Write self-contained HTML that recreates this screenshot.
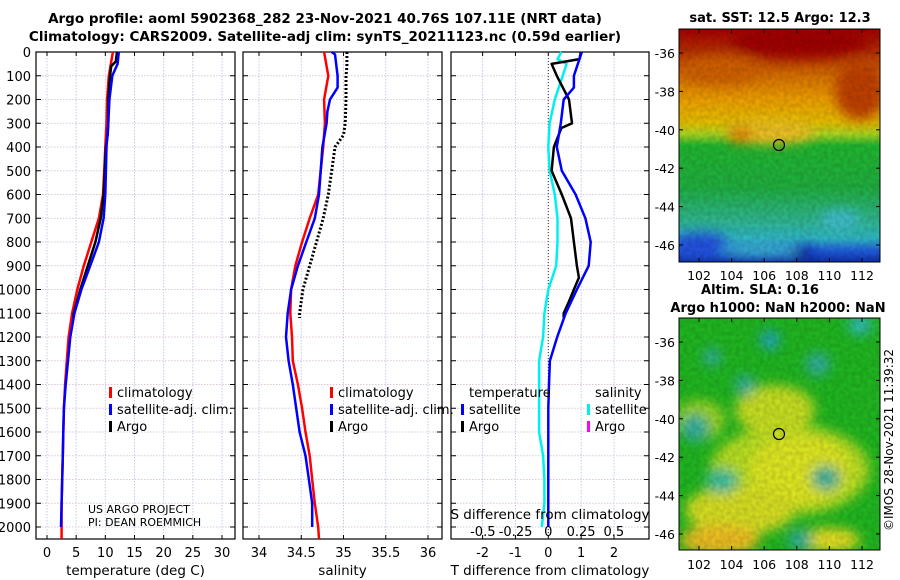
<!DOCTYPE html>
<html><head><meta charset="utf-8"><style>
body{margin:0;background:#fff;}
svg{display:block;font-family:"DejaVu Sans","Liberation Sans",sans-serif;}
</style></head><body>
<svg id="fig" width="900" height="580" viewBox="0 0 900 580" xmlns="http://www.w3.org/2000/svg">
<defs>
<linearGradient id="sstg" x1="0" y1="0" x2="0" y2="1">
<stop offset="0" stop-color="#a80000"/><stop offset="0.1" stop-color="#b83000"/>
<stop offset="0.2" stop-color="#d87000"/><stop offset="0.3" stop-color="#f0a000"/>
<stop offset="0.4" stop-color="#e8c000"/><stop offset="0.45" stop-color="#b0d820"/>
<stop offset="0.5" stop-color="#20b830"/><stop offset="0.68" stop-color="#20b040"/>
<stop offset="0.82" stop-color="#30b890"/><stop offset="0.9" stop-color="#30b8c8"/>
<stop offset="0.95" stop-color="#2060e0"/><stop offset="1" stop-color="#1030b0"/>
</linearGradient>
<filter id="blur6"><feGaussianBlur stdDeviation="6"/></filter>
<filter id="noise"><feTurbulence type="fractalNoise" baseFrequency="0.25" numOctaves="1" seed="3"/><feColorMatrix values="0 0 0 0 0  0 0 0 0 0  0 0 0 0 0  0 0 0 0.25 -0.05"/></filter>
<clipPath id="c1"><rect x="679" y="29" width="201" height="233"/></clipPath>
<clipPath id="c2"><rect x="679" y="318" width="201" height="232"/></clipPath>
</defs>
<g id="titles">
<text x="325" y="23" text-anchor="middle" font-size="13.5" font-weight="bold">Argo profile: aoml 5902368_282 23-Nov-2021 40.76S 107.11E (NRT data)</text>
<text x="325" y="41" text-anchor="middle" font-size="13.5" font-weight="bold">Climatology: CARS2009. Satellite-adj clim: synTS_20211123.nc (0.59d earlier)</text>
</g>
<g id="plots"></g>
<g id="maps">
<g clip-path="url(#c1)">
<rect x="679" y="29" width="201" height="233" fill="url(#sstg)"/>
<g filter="url(#blur6)">
<ellipse cx="800" cy="42" rx="70" ry="16" fill="#a00000"/>
<ellipse cx="860" cy="90" rx="25" ry="30" fill="#c04000"/>
<ellipse cx="720" cy="70" rx="40" ry="14" fill="#d06000"/>
<ellipse cx="770" cy="132" rx="45" ry="12" fill="#f0c020"/>
<ellipse cx="740" cy="135" rx="12" ry="8" fill="#e08000"/>
<ellipse cx="700" cy="245" rx="30" ry="12" fill="#2050e0"/>
<ellipse cx="800" cy="255" rx="12" ry="10" fill="#1020a0"/>
<ellipse cx="840" cy="220" rx="20" ry="10" fill="#40c0d0"/>
<ellipse cx="760" cy="250" rx="40" ry="6" fill="#40c8d0"/>
</g>
<rect x="679" y="29" width="201" height="233" filter="url(#noise)"/>
</g>
<rect x="679" y="29" width="201" height="233" fill="none" stroke="#000"/>
<circle cx="779" cy="145" r="5.5" fill="none" stroke="#000" stroke-width="1.2"/>
<g clip-path="url(#c2)">
<rect x="679" y="318" width="201" height="232" fill="#20b820"/>
<g filter="url(#blur6)">
<ellipse cx="790" cy="470" rx="80" ry="45" fill="#b8e020"/>
<ellipse cx="775" cy="410" rx="40" ry="25" fill="#c8e020"/>
<ellipse cx="800" cy="470" rx="50" ry="35" fill="#e0e820"/>
<ellipse cx="740" cy="510" rx="55" ry="25" fill="#d8e020"/>
<ellipse cx="720" cy="540" rx="40" ry="15" fill="#f0c020"/>
<ellipse cx="830" cy="540" rx="30" ry="12" fill="#e8e020"/>
<ellipse cx="700" cy="420" rx="25" ry="20" fill="#a0d820"/>
<ellipse cx="770" cy="340" rx="10" ry="10" fill="#20a8c0"/>
<ellipse cx="860" cy="325" rx="12" ry="10" fill="#30c0c0"/>
<ellipse cx="712" cy="357" rx="9" ry="9" fill="#30b0a0"/>
<ellipse cx="818" cy="364" rx="12" ry="12" fill="#30b0a0"/>
<ellipse cx="745" cy="385" rx="10" ry="10" fill="#30b0a0"/>
<ellipse cx="695" cy="428" rx="14" ry="14" fill="#30b0a0"/>
<ellipse cx="722" cy="481" rx="16" ry="12" fill="#30c0a0"/>
<ellipse cx="826" cy="478" rx="14" ry="12" fill="#30b0a0"/>
<ellipse cx="800" cy="540" rx="12" ry="10" fill="#30b0a0"/>
</g>
<rect x="679" y="318" width="201" height="232" filter="url(#noise)"/>
</g>
<rect x="679" y="318" width="201" height="232" fill="none" stroke="#000"/>
<circle cx="779" cy="434" r="5.5" fill="none" stroke="#000" stroke-width="1.2"/>
<text x="780" y="22" text-anchor="middle" font-size="13" font-weight="bold">sat. SST: 12.5 Argo: 12.3</text>
<text x="760" y="294" text-anchor="middle" font-size="13" font-weight="bold">Altim. SLA: 0.16</text>
<text x="778" y="312" text-anchor="middle" font-size="13" font-weight="bold">Argo h1000: NaN h2000: NaN</text>
<text transform="translate(893,440) rotate(-90)" text-anchor="middle" font-size="12">©IMOS 28-Nov-2021 11:39:32</text>
</g>
</svg>
<script>
const depths=[0,100,200,300,400,500,600,700,800,900,1000,1100,1200,1300,1400,1500,1600,1700,1800,1900,2000,2050];
const tempClim=[11.3,10.6,10.3,10.2,10.0,9.8,9.6,8.9,7.6,6.3,5.2,4.3,3.7,3.4,3.1,2.9,2.8,2.7,2.6,2.5,2.5,2.5];
const tempSatDepths=[0,50,100,200,300,400,500,600,700,800,900,1000,1100,1200,1300,1400,1500,1600,1700,1800,1900,2000];
const tempSat=[12.3,12.1,11.2,10.7,10.5,10.2,10.1,10.0,9.7,8.9,7.4,5.9,4.7,4.0,3.6,3.2,2.9,2.8,2.7,2.6,2.5,2.4];
const argoDepths=[0,40,60,100,200,300,350,400,500,600,700,800,900,1000,1100,1120];
const tempArgo=[12.0,11.8,11.0,10.8,10.5,10.5,10.4,10.1,9.9,9.7,9.2,8.3,7.0,5.7,4.6,4.5];
const salClim=[34.77,34.82,34.77,34.78,34.76,34.73,34.70,34.60,34.51,34.43,34.38,34.37,34.39,34.40,34.46,34.51,34.55,34.60,34.63,34.66,34.70,34.71];
const salSatDepths=[0,10,100,150,200,250,300,400,500,600,700,800,900,1000,1100,1200,1300,1400,1500,1600,1700,1800,1900,2000];
const salSat=[34.86,34.90,34.93,34.93,34.84,34.81,34.80,34.75,34.73,34.71,34.66,34.56,34.46,34.38,34.34,34.32,34.35,34.40,34.44,34.48,34.55,34.59,34.63,34.63];
const salArgo=[35.04,35.04,35.04,35.03,35.03,35.02,35.00,34.90,34.86,34.82,34.76,34.68,34.60,34.52,34.48,34.48];
const tdiffSatDepths=[0,100,150,200,300,400,500,600,700,800,900,1000,1100,1200,1300,1400,1500,1600,1700,1800,1900,2000];
const tdiffSat=[1.02,0.78,0.78,0.47,0.38,0.26,0.41,0.83,1.13,1.29,1.23,0.87,0.53,0.27,0.05,0.02,0.0,0.0,0.0,0.0,0.0,0.0];
const tdiffArgoDepths=[0,30,50,100,200,300,320,400,500,600,700,800,900,950,1000,1050,1100,1120];
const tdiffArgo=[0.99,0.95,0.10,0.26,0.63,0.72,0.40,0.17,0.10,0.41,0.69,0.78,0.87,0.93,0.78,0.63,0.47,0.47];
const sdiffSatDepths=[0,30,50,100,200,300,400,500,600,700,800,900,1000,1100,1200,1300,1400,1500,1600,1700,1800,1900,2000];
const sdiffSat=[0.10,0.07,0.14,0.11,0.05,0.01,0.0,0.01,0.05,0.07,0.07,0.06,0.0,-0.03,-0.04,-0.07,-0.07,-0.07,-0.07,-0.04,-0.03,-0.03,-0.05];
const depthTicks=[0,100,200,300,400,500,600,700,800,900,1000,1100,1200,1300,1400,1500,1600,1700,1800,1900,2000];
const tempTicks=[0,5,10,15,20,25,30];
const salTicks=[34,34.5,35,35.5,36];
const tdiffTicks=[-2,-1,0,1,2];
const sdiffTicks=[-0.5,-0.25,0,0.25,0.5];
const latTicks=[-36,-38,-40,-42,-44,-46];
const lonTicks=[102,104,106,108,110,112];

const NS='http://www.w3.org/2000/svg';
const g=document.getElementById('plots');
const Y0=52,Y1=539;
function yD(d){return Y0+d*(527-52)/2000;}
function mk(tag,attrs,parent){const e=document.createElementNS(NS,tag);for(const k in attrs)e.setAttribute(k,attrs[k]);(parent||g).appendChild(e);return e;}
function txt(x,y,s,size,anchor,fill){const t=mk('text',{x:x,y:y,'font-size':size,'text-anchor':anchor||'middle',fill:fill||'#000'});t.textContent=s;return t;}
function scale(v0,p0,v1,p1){return v=>p0+(v-v0)*(p1-p0)/(v1-v0);}
const xT=scale(0,47,30,222), xS=scale(34,259,36,428), xTD=scale(0,548.3,2,614), xSD=scale(0,548.3,0.5,613.8);
const panels=[{l:36,r:235,x:xT,ticks:tempTicks,label:'temperature (deg C)',name:'temperature'},
{l:243,r:442,x:xS,ticks:salTicks,label:'salinity',name:'salinity'},
{l:451,r:649,x:xTD,ticks:tdiffTicks,label:'T difference from climatology',name:'difference'}];
panels.forEach((p,i)=>{
  const pg=mk('g',{});
  
  
  p.ticks.forEach(v=>{const x=p.x(v);
    const l=mk('line',{x1:x,x2:x,y1:Y0,y2:Y1,stroke:'#c8c8e8','stroke-dasharray':'1.5,1.5','stroke-width':1},pg);
    
    mk('line',{x1:x,x2:x,y1:Y1,y2:Y1-4,stroke:'#000'},pg);mk('line',{x1:x,x2:x,y1:Y0,y2:Y0+4,stroke:'#000'},pg);
    const t=txt(x,557,String(v),13);pg.appendChild(t);
    });
  depthTicks.forEach(d=>{const y=yD(d);
    const l=mk('line',{x1:p.l,x2:p.r,y1:y,y2:y,stroke:'#d8c8d8','stroke-dasharray':'1.5,1.5','stroke-width':1},pg);
    
    mk('line',{x1:p.l,x2:p.l+5,y1:y,y2:y,stroke:'#000'},pg);mk('line',{x1:p.r,x2:p.r-5,y1:y,y2:y,stroke:'#000'},pg);});
  const r=mk('rect',{x:p.l,y:Y0,width:p.r-p.l,height:Y1-Y0,fill:'none',stroke:'#000','stroke-width':1.2},pg);
  
  const xl=txt((p.l+p.r)/2,575,p.label,13.5);pg.appendChild(xl);
  
});
depthTicks.forEach(d=>{const t=txt(31,yD(d)+5,String(d),13,'end');
  });
function line(xf,vals,ds,color,w,dash,name){
  const pts=vals.map((v,i)=>xf(v).toFixed(1)+','+yD(ds[i]).toFixed(1)).join(' ');
  const a={points:pts,fill:'none',stroke:color,'stroke-width':w,'stroke-linejoin':'round'};
  if(dash)a['stroke-dasharray']=dash;
  const e=mk('polyline',a);
  }
line(xT,tempClim,depths,'#f00',2.5,null,'temp-climatology-line');
line(xT,tempArgo,argoDepths,'#000',2.5,null,'temp-argo-line');
line(xT,tempSat,tempSatDepths,'#00f',2.5,null,'temp-satellite-line');
line(xS,salClim,depths,'#f00',2.5,null,'sal-climatology-line');
line(xS,salSat,salSatDepths,'#00f',2.5,null,'sal-satellite-line');
line(xS,salArgo,argoDepths,'#000',3,'2,2','sal-argo-line');
const zl=mk('line',{x1:xTD(0),x2:xTD(0),y1:Y0,y2:Y1,stroke:'#333','stroke-dasharray':'1,2'});

line(xSD,sdiffSat,sdiffSatDepths,'#00f0f0',2.5,null,'sdiff-satellite-line');
line(xTD,tdiffArgo,tdiffArgoDepths,'#000',2.5,null,'tdiff-argo-line');
line(xTD,tdiffSat,tdiffSatDepths,'#00f',2.5,null,'tdiff-satellite-line');
sdiffTicks.forEach(v=>{const t=txt(xSD(v),536,String(v),13);
  });
const st=txt(550,519,'S difference from climatology',13.5);

function leg(x,y,color,label,name){
  const m=mk('rect',{x:x,y:y-10,width:3,height:11,fill:color});
  
  const t=txt(x+8,y,label,13,'start');
  }
[[109,'temp'],[330,'sal']].forEach(([x,n])=>{
  leg(x,397,'#f00','climatology',n+'-legend-climatology');
  leg(x,414,'#00f','satellite-adj. clim.',n+'-legend-satellite');
  leg(x,431,'#000','Argo',n+'-legend-argo');});
const lt=txt(469,397,'temperature',13,'start');
const ls=txt(595,397,'salinity',13,'start');
leg(461,414,'#00f','satellite','diff-legend-t-satellite');
leg(461,431,'#000','Argo','diff-legend-t-argo');
leg(587,414,'#00f0f0','satellite','diff-legend-s-satellite');
leg(587,431,'#f0f','Argo','diff-legend-s-argo');
const c1=txt(88,513,'US ARGO PROJECT',11,'start');
const c2=txt(88,526,'PI: DEAN ROEMMICH',11,'start');
const mg=document.getElementById('maps');
const yLat1=scale(-36,53,-46,245), yLat2=scale(-36,342,-46,534), xLon=scale(102,699,112,862);
[[yLat1,29,262,272],[yLat2,318,550,561]].forEach(([yf,top,bot,ly])=>{
  latTicks.forEach(v=>{const y=yf(v);
    mk('line',{x1:679,x2:683,y1:y,y2:y,stroke:'#000'},mg);mk('line',{x1:880,x2:876,y1:y,y2:y,stroke:'#000'},mg);
    const t=txt(675,y+5,String(v),12.5,'end');mg.appendChild(t);
    });
  lonTicks.forEach(v=>{const x=xLon(v);
    mk('line',{x1:x,x2:x,y1:bot,y2:bot-4,stroke:'#000'},mg);mk('line',{x1:x,x2:x,y1:top,y2:top+4,stroke:'#000'},mg);
    const t=txt(x,ly+8,String(v),12.5);mg.appendChild(t);
    });
});
</script>
</body></html>
